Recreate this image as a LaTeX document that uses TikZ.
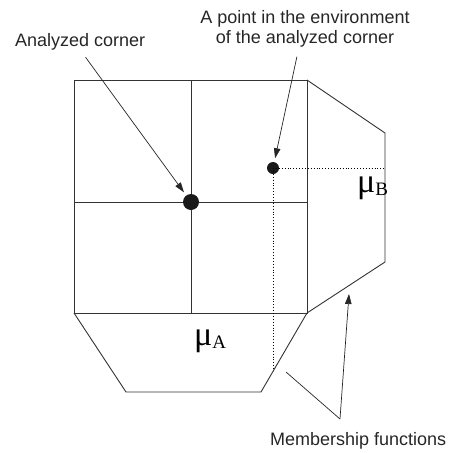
\documentclass[tikz,border=0pt]{standalone}
\usepackage{fontspec}
\setmainfont{Liberation Sans}
\newfontfamily\mufont{Liberation Serif}
\usetikzlibrary{arrows.meta}

\tikzset{
  edge/.style={line width=0.9pt, black!80},
  pointer/.style={line width=0.7pt, black!85, -{Triangle[length=10pt,width=6.5pt]}},
  guide/.style={line width=0.9pt, dotted},
  txt/.style={inner sep=0pt, text=black!85, font=\fontsize{18}{20}\selectfont},
  mu/.style={anchor=base west, inner sep=0pt, font=\mufont\fontsize{34}{36}\selectfont},
  dot/.style={circle, fill=black!90, inner sep=0pt}
}

\begin{document}
\begin{tikzpicture}[x=1pt,y=-1pt]
            \useasboundingbox (0,0) rectangle (451,453);
            % square with its four cells
            \coordinate (tl) at (74,80);
            \coordinate (tr) at (307,80);
            \coordinate (bl) at (74,313);
            \coordinate (br) at (307,313);
            \draw[edge] (tl) rectangle (br);
            \draw[edge] (191,80)--(191,313);
            \draw[edge] (74,202)--(307,202);
            % membership functions
            \coordinate (rtop) at (385,133);
            \coordinate (rbot) at (385,262);
            \coordinate (bleft) at (126,392);
            \coordinate (bright) at (261,392);
            \draw[edge] (tr)--(rtop)--(rbot)--(br);
            \draw[edge] (bl)--(bleft)--(bright)--(br);
            % points
            \node[dot, minimum size=16pt] (corner) at (191,202) {};
            \node[dot, minimum size=12pt] (envpt) at (273,168) {};
            \coordinate (muBpt) at (385,168);
            \coordinate (muApt) at (273,371);
            \draw[guide] (envpt.center)--(muBpt);
            \draw[guide] (envpt.center)--(muApt);
            \node[mu] (muB) at (357,192) {μ\raisebox{-3pt}{\fontsize{19}{20}\selectfont B}};
            \node[mu] (muA) at (194,345) {μ\raisebox{-3pt}{\fontsize{19}{20}\selectfont A}};
            % labels
            \node[txt, anchor=base west] (cornertxt) at (15,46) {Analyzed corner};
            \node[txt, anchor=base, align=center] (envtxt) at (305,43) {A point in the environment\\of the analyzed corner};
            \node[txt, anchor=base west] (memtxt) at (270,445) {Membership functions};
            \coordinate (mfork) at (340,419);
            \coordinate (rtarget) at (349,294);
            \coordinate (btarget) at (286,372);
            \draw[pointer, shorten <=9pt, shorten >=12pt] (cornertxt.south)--(corner.center);
            \draw[pointer, shorten <=10pt, shorten >=10pt] ([xshift=-6pt]envtxt.south)--(envpt.center);
            \draw[pointer] (mfork)--(rtarget);
            \draw[line width=0.7pt, black!85] (mfork)--(btarget);
        \end{tikzpicture}
\end{document}
